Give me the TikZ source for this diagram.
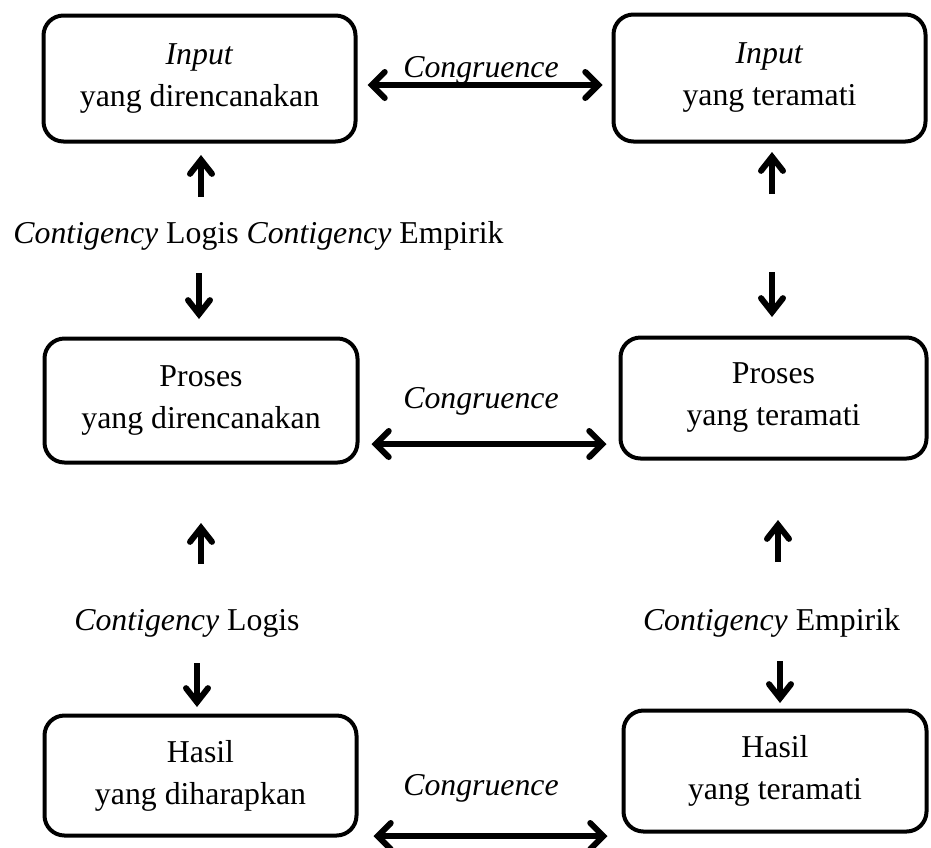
\documentclass[tikz,border=0pt]{standalone}
\usepackage{fontspec}
\setmainfont{Liberation Serif}
\usetikzlibrary{arrows.meta}
\begin{document}
\begin{tikzpicture}[x=1pt,y=-1pt,
  box/.style={draw, line width=4pt, rounded corners=20pt, align=center, inner sep=0pt,
    font=\fontsize{31.8}{42}\selectfont},
  lbl/.style={anchor=base, inner sep=0pt, font=\fontsize{31.8}{38}\selectfont},
  cong/.style={line width=6pt,
    {Straight Barb[length=13pt,width=26pt,line cap=round]}-{Straight Barb[length=13pt,width=26pt,line cap=round]}},
  varr/.style={line width=6pt, -{Straight Barb[length=14pt,width=22pt,line cap=round]}}
]
\useasboundingbox (0,0) rectangle (931,847);

% boxes
\node[box, minimum width=312pt, minimum height=126pt] (inD) at (199.5,78.5) {\textit{Input}\\yang direncanakan};
\node[box, minimum width=312pt, minimum height=127pt] (inT) at (769.5,78) {\textit{Input}\\yang teramati};
\node[box, minimum width=313pt, minimum height=124pt] (prD) at (201,400.5) {Proses\\yang direncanakan};
\node[box, minimum width=306pt, minimum height=121pt] (prT) at (773.5,398) {Proses\\yang teramati};
\node[box, minimum width=312pt, minimum height=120pt] (haD) at (200.5,775.5) {Hasil\\yang diharapkan};
\node[box, minimum width=303pt, minimum height=121pt] (haT) at (775,771) {Hasil\\yang teramati};

% congruence labels
\node[lbl] (cg1) at (481,77) {\textit{Congruence}};
\node[lbl] (cg2) at (481,408) {\textit{Congruence}};
\node[lbl] (cg3) at (481,795) {\textit{Congruence}};

% contigency labels
\node[lbl] (ct1) at (258.5,243) {\textit{Contigency} Logis \textit{Contigency} Empirik};
\node[lbl] (ct2) at (187,630) {\textit{Contigency} Logis};
\node[lbl] (ct3) at (771.5,630) {\textit{Contigency} Empirik};

% congruence arrows
\draw[cong] ([xshift=10pt,yshift=-6.5pt]inD.east) -- ([xshift=-9pt,yshift=-7pt]inT.west);
\draw[cong] ([xshift=12pt,yshift=-43.5pt]prD.east) -- ([xshift=-12pt,yshift=-46pt]prT.west);
\draw[cong] ([xshift=15pt,yshift=-60.5pt]haD.east) -- ([xshift=-14pt,yshift=-65pt]haT.west);

% vertical arrows
\coordinate (u1s) at (201,197); \coordinate (u1e) at (201,155);
\coordinate (u2s) at (772,194); \coordinate (u2e) at (772,152);
\coordinate (d1s) at (199,273); \coordinate (d1e) at (199,319);
\coordinate (d2s) at (772,272); \coordinate (d2e) at (772,317);
\coordinate (u3s) at (201,564); \coordinate (u3e) at (201,523);
\coordinate (u4s) at (778,562); \coordinate (u4e) at (778,520);
\coordinate (d3s) at (197,663); \coordinate (d3e) at (197,707);
\coordinate (d4s) at (780,661); \coordinate (d4e) at (780,703);
\draw[varr] (u1s) -- (u1e);
\draw[varr] (u2s) -- (u2e);
\draw[varr] (d1s) -- (d1e);
\draw[varr] (d2s) -- (d2e);
\draw[varr] (u3s) -- (u3e);
\draw[varr] (u4s) -- (u4e);
\draw[varr] (d3s) -- (d3e);
\draw[varr] (d4s) -- (d4e);
\end{tikzpicture}
\end{document}
